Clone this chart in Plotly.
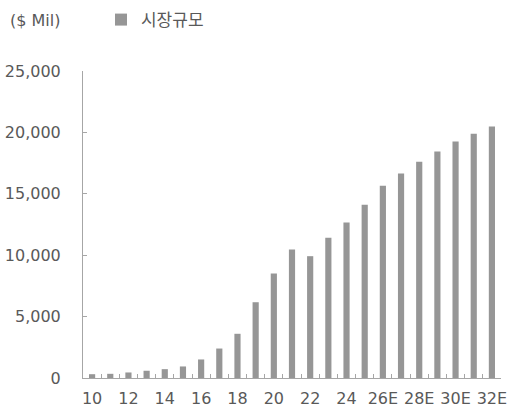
import plotly.graph_objects as go

categories = ["10", "11", "12", "13", "14", "15", "16", "17", "18", "19", "20", "21",
              "22", "23", "24", "25", "26E", "27E", "28E", "29E", "30E", "31E", "32E"]
market_size = [310, 340, 450, 590, 720, 940, 1510, 2400, 3600, 6170, 8510, 10460,
               9920, 11420, 12660, 14100, 15650, 16650, 17600, 18440, 19260, 19880, 20480]
tick_labels = [c if i % 2 == 0 else "" for i, c in enumerate(categories)]
y_ticks = [0, 5000, 10000, 15000, 20000, 25000]

font_family = "DejaVu Sans"
text_color = "#595959"
axis_color = "#a6a6a6"

fig = go.Figure()
fig.add_trace(go.Bar(
    x=categories, y=market_size, name="시장규모",
    marker=dict(color="#969696", line=dict(width=0)),
))

fig.update_layout(
    width=509, height=412,
    margin=dict(l=83, r=8, t=71, b=34, autoexpand=False),
    paper_bgcolor="white", plot_bgcolor="white",
    bargap=0.66,
    font=dict(family=font_family, size=16, color=text_color),
    showlegend=True,
    legend=dict(
        x=0.043, y=1.166, xanchor="left", yanchor="middle",
        orientation="h",
        font=dict(family="Noto Sans CJK KR", size=17, color=text_color),
        bgcolor="rgba(0,0,0,0)",
    ),
    annotations=[dict(
        text="($ Mil)", xref="paper", yref="paper",
        x=-0.18, y=1.166, xanchor="left", yanchor="middle",
        showarrow=False, font=dict(family=font_family, size=16, color=text_color),
    )],
)

fig.update_xaxes(
    type="category", automargin=False, tickangle=0,
    tickmode="array", tickvals=categories, ticktext=tick_labels,
    tickson="boundaries", ticks="inside", ticklen=4, tickcolor=axis_color,
    showline=True, linecolor=axis_color, linewidth=1,
    showgrid=False, zeroline=False,
    ticklabelstandoff=6,
)
fig.update_yaxes(
    range=[0, 25000], tickmode="array", tickvals=y_ticks, tickformat=",",
    automargin=False,
    ticks="inside", ticklen=4, tickcolor=axis_color,
    showline=True, linecolor=axis_color, linewidth=1,
    showgrid=False, zeroline=False,
    ticklabelstandoff=18,
)

fig.write_html(
    "out.html",
    config={"displayModeBar": False},
    post_script="document.body.style.margin='0';document.body.style.overflow='hidden';",
)
